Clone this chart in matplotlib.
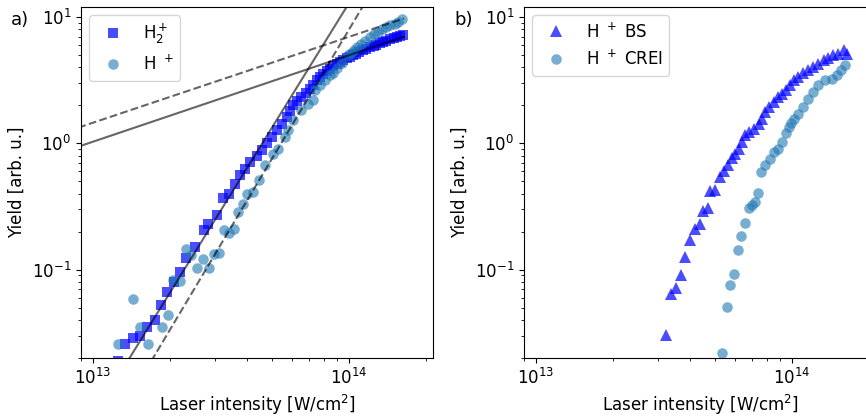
import numpy as np
import matplotlib
matplotlib.use("Agg")
import matplotlib.pyplot as plt

plt.rcParams["font.size"] = 12

# panel a) H2+ and H+ yields
h2_x = [1.25e13, 1.34e13, 1.44e13, 1.53e13, 1.63e13, 1.75e13, 1.85e13, 1.95e13, 2.08e13, 2.19e13,
        2.31e13, 2.51e13, 2.72e13, 2.82e13, 3.05e13, 3.24e13, 3.41e13, 3.59e13, 3.76e13, 3.93e13,
        4.11e13, 4.37e13, 4.56e13, 4.77e13, 4.99e13, 5.22e13, 5.46e13, 5.71e13, 5.9e13, 6.07e13,
        6.3e13, 6.53e13, 6.8e13, 7.05e13, 7.25e13, 7.48e13, 7.7e13, 7.94e13, 8.2e13, 8.43e13,
        8.7e13, 8.96e13, 9.2e13, 9.5e13, 9.8e13, 1.01e14, 1.04e14, 1.07e14, 1.1e14, 1.14e14,
        1.17e14, 1.21e14, 1.25e14, 1.28e14, 1.32e14, 1.36e14, 1.4e14, 1.45e14, 1.5e14, 1.54e14,
        1.59e14, 1.63e14]
h2_y = [0.019, 0.026, 0.029, 0.0296, 0.035, 0.0397, 0.053, 0.067, 0.080, 0.096,
        0.124, 0.151, 0.207, 0.231, 0.269, 0.372, 0.40, 0.48, 0.558, 0.63,
        0.711, 0.80, 0.88, 1.0, 1.12, 1.27, 1.43, 1.62, 1.8, 2.0,
        2.15, 2.33, 2.5, 2.71, 2.9, 3.16, 3.35, 3.56, 3.72, 3.90,
        4.08, 4.27, 4.4, 4.54, 4.7, 4.82, 4.98, 5.13, 5.3, 5.44,
        5.6, 5.78, 5.9, 6.04, 6.2, 6.34, 6.5, 6.66, 6.8, 6.90,
        7.1, 7.26]

hp_x = [1.26e13, 1.44e13, 1.53e13, 1.64e13, 1.86e13, 1.96e13, 2.06e13, 2.19e13, 2.31e13, 2.43e13,
        2.56e13, 2.69e13, 2.84e13, 2.97e13, 3.12e13, 3.25e13, 3.41e13, 3.56e13, 3.70e13, 3.85e13,
        4.01e13, 4.21e13, 4.47e13, 4.70e13, 5.07e13, 5.30e13, 5.62e13, 5.8e13, 6.07e13, 6.53e13,
        6.93e13, 7.26e13, 7.36e13, 7.7e13, 8.05e13, 8.43e13, 8.7e13, 8.96e13, 9.36e13, 9.93e13,
        1.02e14, 1.05e14, 1.08e14, 1.12e14, 1.16e14, 1.21e14, 1.25e14, 1.30e14, 1.35e14, 1.40e14,
        1.45e14, 1.51e14, 1.56e14, 1.61e14]
hp_y = [0.026, 0.059, 0.035, 0.0256, 0.035, 0.0435, 0.083, 0.082, 0.147, 0.130,
        0.104, 0.121, 0.103, 0.132, 0.135, 0.207, 0.196, 0.21, 0.286, 0.333,
        0.40, 0.41, 0.51, 0.67, 0.83, 0.91, 1.12, 1.27, 1.52, 1.82,
        2.06, 2.19, 2.63, 2.88, 3.16, 3.45, 3.6, 3.95, 4.3, 4.98,
        5.2, 5.44, 5.8, 6.15, 6.5, 6.95, 7.3, 7.61, 8.0, 8.34,
        8.6, 8.87, 9.2, 9.59]

# power-law fits y = A * (I / 1e14)**n
fit_h2_low = (12.85, 3.28)
fit_h2_high = (4.98, 0.685)
fit_hp_low = (7.93, 3.40)
fit_hp_high = (6.96, 0.68)
fit_range = [5e12, 1.64e14]

# panel b) H+ BS and CREI
bs_x = [3.24e13, 3.39e13, 3.54e13, 3.68e13, 3.84e13, 4.0e13, 4.18e13, 4.37e13, 4.5e13, 4.69e13,
        4.8e13, 5.0e13, 5.22e13, 5.43e13, 5.64e13, 5.84e13, 6.02e13, 6.2e13, 6.39e13, 6.55e13,
        6.79e13, 7.1e13, 7.43e13, 7.65e13, 7.88e13, 8.17e13, 8.49e13, 8.82e13, 9.15e13, 9.48e13,
        9.86e13, 1.02e14, 1.06e14, 1.11e14, 1.16e14, 1.21e14, 1.27e14, 1.33e14, 1.39e14, 1.45e14,
        1.52e14, 1.60e14, 1.64e14]
bs_y = [0.0302, 0.0637, 0.0715, 0.0912, 0.127, 0.173, 0.209, 0.229, 0.291, 0.31,
        0.42, 0.43, 0.54, 0.60, 0.68, 0.76, 0.83, 0.91, 1.03, 1.16,
        1.23, 1.31, 1.43, 1.57, 1.77, 1.94, 2.12, 2.33, 2.48, 2.66,
        2.88, 3.15, 3.35, 3.60, 3.78, 4.02, 4.27, 4.54, 4.77, 4.98,
        5.13, 5.44, 5.13]

crei_x = [5.35e13, 5.56e13, 5.76e13, 5.96e13, 6.16e13, 6.34e13, 6.57e13, 6.79e13, 7.0e13, 7.17e13,
          7.38e13, 7.61e13, 7.88e13, 8.19e13, 8.49e13, 8.82e13, 9.15e13, 9.48e13, 9.71e13, 9.9e13,
          1.02e14, 1.06e14, 1.11e14, 1.16e14, 1.21e14, 1.27e14, 1.35e14, 1.43e14, 1.50e14, 1.56e14,
          1.61e14]
crei_y = [0.0219, 0.0506, 0.0752, 0.093, 0.142, 0.184, 0.236, 0.31, 0.323, 0.343,
          0.404, 0.589, 0.67, 0.757, 0.853, 0.908, 1.02, 1.21, 1.35, 1.45,
          1.57, 1.72, 1.94, 2.26, 2.55, 2.88, 3.15, 3.25, 3.45, 3.78,
          4.15]

xlim = (9e12, 2.13e14)
ylim = (0.02, 12)

fig = plt.figure(figsize=(8.66, 4.17), dpi=100)
ax1 = fig.add_axes([0.0935, 0.1415, 0.4065, 0.8417])
ax2 = fig.add_axes([0.605, 0.1415, 0.4065, 0.8417])

ax1.plot(h2_x, h2_y, ls="none", marker="s", ms=7.2, mew=0, color="blue", alpha=0.7, label="H$_2^+$")
ax1.plot(hp_x, hp_y, ls="none", marker="o", ms=7.6, mew=0, color="C0", alpha=0.6, label="H $^+$")

xf = np.array(fit_range)
for (a, n), ls in [(fit_h2_low, "-"), (fit_h2_high, "-"), (fit_hp_low, "--"), (fit_hp_high, "--")]:
    ax1.plot(xf, a * (xf / 1e14) ** n, color="k", ls=ls, lw=1.5, alpha=0.6)

ax2.plot(bs_x, bs_y, ls="none", marker="^", ms=8, mew=0, color="blue", alpha=0.7, label="H $^+$ BS")
ax2.plot(crei_x, crei_y, ls="none", marker="o", ms=7.6, mew=0, color="C0", alpha=0.6, label="H $^+$ CREI")

for ax in (ax1, ax2):
    ax.set_xscale("log")
    ax.set_yscale("log")
    ax.set_xlim(xlim)
    ax.set_ylim(ylim)
    ax.set_xlabel("Laser intensity [W/cm$^2$]")
    ax.set_ylabel("Yield [arb. u.]")
    ax.legend(loc="upper left")

fig.text(0.012, 0.952, "a)", fontsize=13, va="center")
fig.text(0.525, 0.952, "b)", fontsize=13, va="center")

fig.savefig("out.png", dpi=100)
